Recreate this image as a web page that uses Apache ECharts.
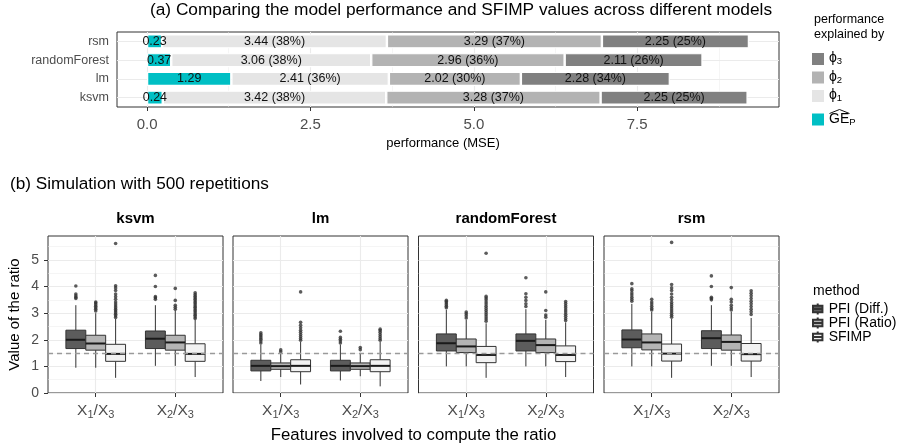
<!DOCTYPE html>
<html><head><meta charset="utf-8">
<script src="https://cdn.jsdelivr.net/npm/echarts@6/dist/echarts.min.js"></script>
<style>html,body{margin:0;padding:0;background:#fff}#c{width:900px;height:446px}</style>
</head><body><div id="c"></div>
<script>
// ---------- (a) model performance ----------
const MODELS = ['ksvm', 'lm', 'randomForest', 'rsm'];
const GE_P = [0.24, 1.29, 0.37, 0.23];
const PHI1 = [3.42, 2.41, 3.06, 3.44];
const PHI2 = [3.28, 2.02, 2.96, 3.29];
const PHI3 = [2.25, 2.28, 2.11, 2.25];
const PERF_TICKS = [0, 2.5, 5, 7.5];
const PERF_MINOR = [1.25, 3.75, 6.25, 8.75];

// ---------- (b) simulation ----------
const FACETS = ['ksvm', 'lm', 'randomForest', 'rsm'];
const RATIOS = ['X1/X3', 'X2/X3'];
const METHODS = ['PFI (Diff.)', 'PFI (Ratio)', 'SFIMP'];
const RATIO_TICKS = [0, 1, 2, 3, 4, 5];
const REFERENCE = 1.5;
// [lower whisker, Q1, median, Q3, upper whisker]; rows = ratio, cols = method
const KSVM_STATS = [
  [[0.95,1.67,2.00,2.36,3.30],[0.95,1.61,1.86,2.17,3.00],[0.57,1.19,1.47,1.83,2.78]],
  [[1.02,1.67,2.04,2.33,3.30],[1.02,1.61,1.90,2.17,3.10],[0.60,1.19,1.47,1.85,2.75]]
];
const KSVM_OUTLIERS = [
  [[3.55,3.60,3.65,3.72,4.02],[3.08,3.15,3.20,3.26,3.32,3.38,3.42],[2.84,2.90,2.96,3.02,3.08,3.14,3.20,3.27,3.34,3.42,3.52,3.62,3.72,3.85,3.95,4.03,5.62]],
  [[3.52,3.58,3.62,4.00,4.42],[3.15,3.22,3.30,3.48,3.93],[2.80,2.86,2.92,2.98,3.04,3.10,3.16,3.22,3.28,3.34,3.40,3.46,3.52,3.58,3.64,3.70,3.77]]
];
const LM_STATS = [
  [[0.45,0.83,1.02,1.23,1.82],[0.60,0.89,1.01,1.13,1.48],[0.32,0.80,1.02,1.25,1.92]],
  [[0.47,0.83,1.02,1.23,1.82],[0.63,0.89,1.01,1.13,1.50],[0.25,0.80,1.02,1.25,1.92]]
];
const LM_OUTLIERS = [
  [[1.88,1.95,2.02,2.08,2.14,2.20,2.26],[1.55,1.62],[1.98,2.05,2.12,2.20,2.28,2.36,2.45,2.55,2.66,3.80]],
  [[1.88,1.95,2.02,2.09,2.32],[1.63,1.71],[1.98,2.05,2.12,2.20,2.28,2.35,2.40]]
];
const RF_STATS = [
  [[1.00,1.58,1.87,2.22,3.12],[1.00,1.52,1.75,2.03,2.75],[0.57,1.14,1.43,1.75,2.62]],
  [[1.00,1.58,1.96,2.22,3.15],[1.00,1.52,1.80,2.03,2.75],[0.60,1.18,1.43,1.77,2.65]]
];
const RF_OUTLIERS = [
  [[3.20,3.26,3.32,3.38,3.44,3.48],[2.82,2.90,2.98,3.04],[2.70,2.78,2.86,2.94,3.02,3.10,3.18,3.26,3.34,3.42,3.50,3.57,3.63,5.25]],
  [[3.25,3.35,3.48,3.60,3.73,4.33],[2.85,2.93,3.10,3.80],[2.72,2.80,2.88,2.96,3.04,3.12,3.20,3.28,3.36,3.44]]
];
const RSM_STATS = [
  [[1.00,1.70,2.01,2.37,3.35],[1.00,1.62,1.90,2.22,3.05],[0.57,1.20,1.48,1.84,2.78]],
  [[1.02,1.67,2.06,2.34,3.30],[1.02,1.61,1.92,2.18,3.05],[0.60,1.20,1.46,1.86,2.82]]
];
const RSM_OUTLIERS = [
  [[3.45,3.52,3.60,3.68,3.76,3.85,3.92,4.11],[3.12,3.18,3.26,3.34,3.42,3.52],[2.85,2.92,3.00,3.08,3.16,3.24,3.32,3.40,3.50,3.60,3.72,3.85,3.95,4.08,5.66]],
  [[3.50,3.55,3.60,4.00,4.40],[3.12,3.20,3.30,3.42,3.52,3.96],[2.95,3.05,3.15,3.25,3.35,3.45,3.55,3.65,3.75,3.84]]
];

const STATS = [KSVM_STATS, LM_STATS, RF_STATS, RSM_STATS];
const OUTLIERS = [KSVM_OUTLIERS, LM_OUTLIERS, RF_OUTLIERS, RSM_OUTLIERS];

// ---------- styling ----------
const FONT = '"Liberation Sans", Arial, Helvetica, sans-serif';
const BAR_COLORS = { 'GE': '#00BFC4', '\u03d51': '#E5E5E5', '\u03d52': '#B3B3B3', '\u03d53': '#808080' };
const BOX_FILLS = ['#5C5C5C', '#B4B4B4', '#F2F2F2'];
const DODGE = 0.25, BOX_W = 0.25;
const FACET_LEFT = [48, 233, 418.5, 604];
const FACET_W = 175, FACET_TOP = 236, FACET_H = 157;
const GRID_COL = '#EBEBEB';

const rich = {
  m: { fontSize: 14, lineHeight: 15, verticalAlign: 'top', color: '#000', fontFamily: FONT },
  s: { fontSize: 9.5, lineHeight: 8, padding: [7, 0, 0, 0], verticalAlign: 'bottom', color: '#000', fontFamily: FONT }
};
const legendFmt = n => n === 'GE' ? '{m|GE}{s|P}' : '{m|\u03d5}{s|' + n.slice(-1) + '}';

const grids = [{ left: 117, top: 32, width: 662, height: 75, show: true, borderColor: '#333', borderWidth: 1 }];
const xAxes = [{
  type: 'value', gridIndex: 0, min: -0.46, max: 9.67,
  axisLine: { show: false },
  axisTick: { show: true, customValues: PERF_TICKS, length: 4, lineStyle: { color: '#333' } },
  axisLabel: { customValues: PERF_TICKS, formatter: v => v.toFixed(1), color: '#4D4D4D', fontSize: 15, fontFamily: FONT, margin: 10 },
  splitLine: { show: false }
}];
const yAxes = [{
  type: 'category', gridIndex: 0, data: MODELS,
  axisLine: { show: false },
  axisTick: { show: true, alignWithLabel: true, length: 4, lineStyle: { color: '#333' } },
  axisLabel: { color: '#4D4D4D', fontSize: 12.5, fontFamily: FONT, margin: 8 },
  splitLine: { show: false }
}];

const series = [];
const phiSum = i => PHI1[i] + PHI2[i] + PHI3[i];
[['GE', GE_P], ['\u03d51', PHI1], ['\u03d52', PHI2], ['\u03d53', PHI3]].forEach(([name, vals], k) => {
  const s = {
    type: 'bar', name, stack: 'perf', xAxisIndex: 0, yAxisIndex: 0, barWidth: 14,
    data: vals,
    itemStyle: { color: BAR_COLORS[name], borderColor: '#fff', borderWidth: 1.2 },
    label: {
      show: true, position: 'inside', color: '#111', fontSize: 12.5, fontFamily: FONT,
      formatter: p => k === 0 ? p.value.toFixed(2)
        : p.value.toFixed(2) + ' (' + Math.round(100 * p.value / phiSum(p.dataIndex)) + '%)'
    }
  };
  if (k === 0) {
    s.markLine = {
      z: 1, silent: true, symbol: ['none', 'none'], label: { show: false }, animation: false,
      lineStyle: { color: GRID_COL, type: 'solid', width: 1.1 },
      data: [
        ...PERF_TICKS.map(v => ({ xAxis: v })),
        ...PERF_MINOR.map(v => ({ xAxis: v, lineStyle: { color: GRID_COL, type: 'solid', width: 0.5 } })),
        ...MODELS.map((m, i) => ({ yAxis: i }))
      ]
    };
  }
  series.push(s);
});

function ratioLabel(r) {
  const p = r.match(/X(\d)\/X(\d)/);
  return '{m|X}{s|' + p[1] + '}{m|/X}{s|' + p[2] + '}';
}

function renderBox(params, api) {
  const x = api.value(0);
  const lo = api.coord([x, api.value(1)]);
  const q1 = api.coord([x, api.value(2)]);
  const md = api.coord([x, api.value(3)]);
  const q3 = api.coord([x, api.value(4)]);
  const hi = api.coord([x, api.value(5)]);
  const hw = api.size([BOX_W, 0])[0] / 2;
  const fill = api.visual('color');
  const ln = { stroke: '#333', lineWidth: 1 };
  return {
    type: 'group', children: [
      { type: 'line', shape: { x1: lo[0], y1: lo[1], x2: q1[0], y2: q1[1] }, style: ln },
      { type: 'line', shape: { x1: q3[0], y1: q3[1], x2: hi[0], y2: hi[1] }, style: ln },
      { type: 'rect', shape: { x: q3[0] - hw, y: q3[1], width: 2 * hw, height: q1[1] - q3[1] }, style: { fill, stroke: '#333', lineWidth: 1 } },
      { type: 'line', shape: { x1: md[0] - hw, y1: md[1], x2: md[0] + hw, y2: md[1] }, style: { stroke: '#1a1a1a', lineWidth: 2 } }
    ]
  };
}

const xRich = {
  m: { fontSize: 15.5, lineHeight: 17, verticalAlign: 'top', color: '#4D4D4D', fontFamily: FONT },
  s: { fontSize: 11, lineHeight: 9, padding: [8, 0, 0, 0], verticalAlign: 'bottom', color: '#4D4D4D', fontFamily: FONT }
};

FACETS.forEach((facet, f) => {
  const g = f + 1;
  grids.push({ left: FACET_LEFT[f], top: FACET_TOP, width: FACET_W, height: FACET_H, show: true, borderColor: '#333', borderWidth: 1 });
  xAxes.push({
    type: 'value', gridIndex: g, min: 0.4, max: 2.6,
    axisLine: { show: false },
    axisTick: { show: true, customValues: [1, 2], length: 4, lineStyle: { color: '#333' } },
    axisLabel: { customValues: [1, 2], formatter: v => ratioLabel(RATIOS[Math.round(v) - 1]), rich: xRich, margin: 10 },
    splitLine: { show: false }
  });
  yAxes.push({
    type: 'value', gridIndex: g, min: 0, max: 5.9, interval: 1,
    axisLine: { show: false },
    axisTick: { show: f === 0, customValues: RATIO_TICKS, length: 4, lineStyle: { color: '#333' } },
    axisLabel: { show: f === 0, customValues: RATIO_TICKS, color: '#4D4D4D', fontSize: 14, fontFamily: FONT, margin: 9 },
    splitLine: { show: true, lineStyle: { color: GRID_COL, width: 1.1 } },
    minorTick: { show: false, splitNumber: 2 },
    minorSplitLine: { show: true, lineStyle: { color: GRID_COL, width: 0.5 } },
    name: f === 0 ? 'Value of the ratio' : '', nameLocation: 'middle', nameRotate: 90, nameGap: 26,
    nameTextStyle: { fontSize: 15, color: '#000', fontFamily: FONT }
  });
  METHODS.forEach((mName, m) => {
    const s = {
      type: 'custom', name: mName, xAxisIndex: g, yAxisIndex: g, clip: false,
      itemStyle: { color: BOX_FILLS[m], borderColor: '#333', borderWidth: 1 },
      encode: { x: 0, y: [1, 2, 3, 4, 5] },
      data: RATIOS.map((r, ri) => [ri + 1 + (m - 1) * DODGE, ...STATS[f][ri][m]]),
      renderItem: renderBox
    };
    if (m === 0) {
      s.markLine = {
        z: 1, silent: true, symbol: ['none', 'none'], label: { show: false }, animation: false,
        lineStyle: { color: GRID_COL, type: 'solid', width: 1.1 },
        data: RATIOS.map((r, ri) => ({ xAxis: ri + 1 }))
      };
    }
    series.push(s);
  });
  const pts = [];
  RATIOS.forEach((r, ri) => METHODS.forEach((mName, m) => {
    OUTLIERS[f][ri][m].forEach(v => pts.push([ri + 1 + (m - 1) * DODGE, v]));
  }));
  series.push({
    type: 'scatter', name: 'outliers', xAxisIndex: g, yAxisIndex: g, symbolSize: 3.6,
    itemStyle: { color: '#333' }, data: pts,
    markLine: {
      z: 6, silent: true, symbol: ['none', 'none'], label: { show: false }, animation: false,
      lineStyle: { color: '#9A9A9A', type: [5, 4], width: 1.3 },
      data: [{ yAxis: REFERENCE }]
    }
  });
});

const txt = (text, x, y, size, opts = {}) => ({
  type: 'text', x, y, silent: true,
  style: Object.assign({ text, fontSize: size, fontFamily: FONT, fill: '#000',
    textAlign: 'left', textVerticalAlign: 'middle', align: 'left', verticalAlign: 'middle' }, opts)
});
const graphics = [
  txt('(a) Comparing the model performance and SFIMP values across different models', 461, 10, 17.3, { textAlign: 'center', align: 'center' }),
  txt('performance (MSE)', 443, 143, 13, { textAlign: 'center', align: 'center' }),
  txt('performance', 814, 20, 12.5),
  txt('explained by', 814, 35, 12.5),
  txt('(b) Simulation with 500 repetitions', 10, 184, 17.2),
  txt('Features involved to compute the ratio', 413.5, 435, 16.8, { textAlign: 'center', align: 'center' }),
  txt('method', 813, 291, 14),
  { type: 'polyline', silent: true, shape: { points: [[829.5, 113.5], [839.5, 109.5], [849.5, 113.5]] }, style: { stroke: '#111', lineWidth: 1, fill: null } }
];
FACETS.forEach((facet, f) => graphics.push(
  txt(facet, FACET_LEFT[f] + FACET_W / 2, 219, 15, { textAlign: 'center', align: 'center', fontWeight: 'bold' })
));

const chart = echarts.init(document.getElementById('c'), null, { renderer: 'canvas' });
chart.setOption({
  animation: false,
  backgroundColor: '#fff',
  textStyle: { fontFamily: FONT },
  grid: grids, xAxis: xAxes, yAxis: yAxes,
  legend: [
    { data: ['\u03d53', '\u03d52', '\u03d51'], orient: 'vertical', left: 812, top: 49.5, padding: 0,
      itemWidth: 12, itemHeight: 12, itemGap: 1.5, icon: 'rect', selectedMode: false,
      itemStyle: { borderWidth: 0 }, formatter: legendFmt, textStyle: { rich } },
    { data: ['GE'], orient: 'vertical', left: 812, top: 110, padding: 0,
      itemWidth: 12, itemHeight: 12, icon: 'rect', selectedMode: false,
      itemStyle: { borderWidth: 0 }, formatter: legendFmt, textStyle: { rich } },
    { data: METHODS, orient: 'vertical', left: 812, top: 302, padding: 0,
      itemWidth: 12, itemHeight: 11, itemGap: 0, selectedMode: false,
      icon: 'path://M6,0L6,3M0,3L12,3L12,11L0,11ZM0,7L12,7M6,11L6,14',
      textStyle: { fontSize: 14, color: '#000', fontFamily: FONT, lineHeight: 12 } }
  ],
  graphic: graphics,
  series
});
</script></body></html>
